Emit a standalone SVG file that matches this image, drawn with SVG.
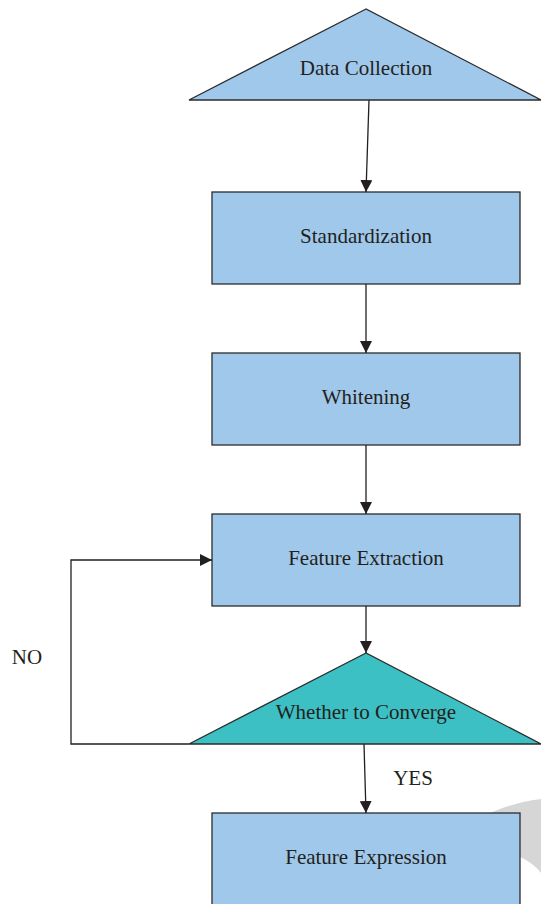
<svg xmlns="http://www.w3.org/2000/svg" width="541" height="904" viewBox="0 0 541 904">
<style>
.n{fill:#9fc8ea;stroke:#2b2b2b;stroke-width:1.3}
.d{fill:#3cc0c4;stroke:#2b2b2b;stroke-width:1.3}
.t{font-family:"Liberation Serif",serif;font-size:21px;fill:#231f20;text-anchor:middle}
.c{fill:none;stroke:#231f20;stroke-width:1.3}
</style>
<defs>
<marker id="a" viewBox="0 0 10 10" refX="10" refY="5" markerWidth="12" markerHeight="12" markerUnits="userSpaceOnUse" orient="auto">
<path d="M0,0 L10,5 L0,10 z" fill="#231f20"/>
</marker>
</defs>
<g id="watermark">
<circle cx="560" cy="968" r="170" fill="#d6d6d6"/>
<circle cx="500" cy="905" r="52" fill="#ffffff"/>
</g>
<g id="data-collection">
<polygon class="n" points="366,9 189,100 541,100"/>
<text class="t" x="366" y="75">Data Collection</text>
</g>
<g id="standardization">
<rect class="n" x="212" y="192" width="308" height="92"/>
<text class="t" x="366" y="243">Standardization</text>
</g>
<g id="whitening">
<rect class="n" x="212" y="353" width="308" height="92"/>
<text class="t" x="366" y="404">Whitening</text>
</g>
<g id="feature-extraction">
<rect class="n" x="212" y="514" width="308" height="92"/>
<text class="t" x="366" y="565">Feature Extraction</text>
</g>
<g id="converge">
<polygon class="d" points="366,653 189,744 541,744"/>
<text class="t" x="366" y="719">Whether to Converge</text>
</g>
<g id="feature-expression">
<rect class="n" x="212" y="813" width="308" height="100"/>
<text class="t" x="366" y="864">Feature Expression</text>
</g>
<g id="connectors">
<path class="c" d="M369,100 L366,192" marker-end="url(#a)"/>
<path class="c" d="M366,284 L366,353" marker-end="url(#a)"/>
<path class="c" d="M366,445 L366,514" marker-end="url(#a)"/>
<path class="c" d="M366,606 L366,653" marker-end="url(#a)"/>
<path class="c" d="M364,744 L366,813" marker-end="url(#a)"/>
<path class="c" d="M189,744 L71,744 L71,560 L212,560" marker-end="url(#a)"/>
<text class="t" x="413" y="785">YES</text>
<text class="t" x="27" y="664">NO</text>
</g>
</svg>
